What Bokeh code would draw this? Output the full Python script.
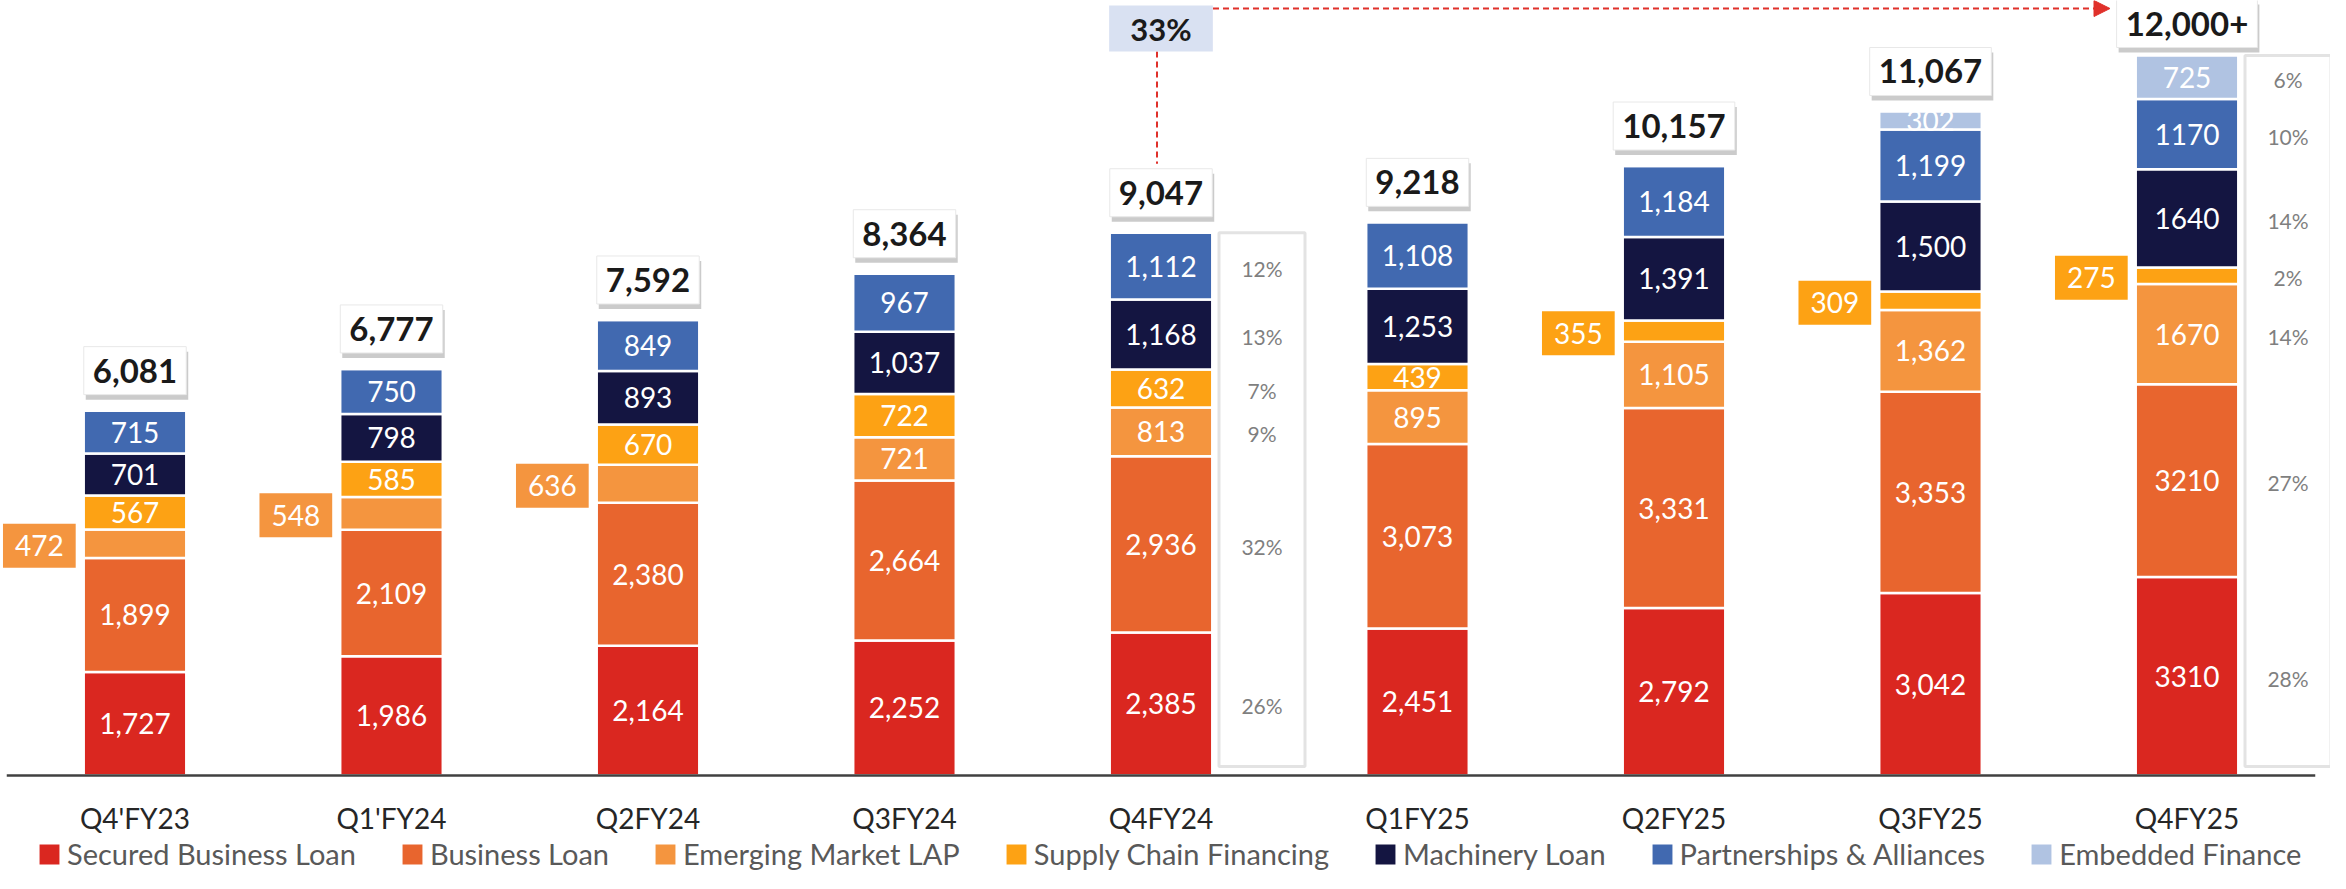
import numpy as np
from bokeh.plotting import figure
from bokeh.models import ColumnDataSource, Legend, Arrow, NormalHead, Range1d
from bokeh.core.properties import value
from bokeh.embed import file_html
from bokeh.resources import INLINE

# ---------------- data ----------------
categories = ["Q4'FY23", "Q1'FY24", "Q2FY24", "Q3FY24", "Q4FY24",
              "Q1FY25", "Q2FY25", "Q3FY25", "Q4FY25"]
secured_business_loan = [1727, 1986, 2164, 2252, 2385, 2451, 2792, 3042, 3310]
business_loan = [1899, 2109, 2380, 2664, 2936, 3073, 3331, 3353, 3210]
emerging_market_lap = [472, 548, 636, 721, 813, 895, 1105, 1362, 1670]
supply_chain_financing = [567, 585, 670, 722, 632, 439, 355, 309, 275]
machinery_loan = [701, 798, 893, 1037, 1168, 1253, 1391, 1500, 1640]
partnerships_alliances = [715, 750, 849, 967, 1112, 1108, 1184, 1199, 1170]
embedded_finance = [0, 0, 0, 0, 0, 0, 0, 302, 725]
total_labels = ["6,081", "6,777", "7,592", "8,364", "9,047", "9,218",
                "10,157", "11,067", "12,000+"]
share_q4fy24 = [26, 32, 9, 7, 13, 12]          # % of book, bottom to top
share_q4fy25 = [28, 27, 14, 2, 14, 10, 6]
growth_label = "33%"
series_names = ["Secured Business Loan", "Business Loan", "Emerging Market LAP",
                "Supply Chain Financing", "Machinery Loan",
                "Partnerships & Alliances", "Embedded Finance"]
series_values = [secured_business_loan, business_loan, emerging_market_lap,
                 supply_chain_financing, machinery_loan, partnerships_alliances,
                 embedded_finance]

# ---------------- style ----------------
colors = ["#DA2720", "#E8652E", "#F4953F", "#FDA214", "#141541", "#4169B0", "#B0C3E2"]
FONT = value("Lato")
W, H = 2330, 873
PX_PER_CAT = 256.5      # px between category centres
PX_PER_UNIT = 0.06      # px per unit of value
BASE_PX = 775           # canvas y of the zero line
FIRST_CENTER_PX = 134.5
CHAR_W = {",": 0.24, "%": 0.83, "+": 0.58}   # approx Lato advance widths (em)


def dx(px):
    return px / PX_PER_CAT


def dy(px):
    return px / PX_PER_UNIT


def text_w(s, size):
    return sum(CHAR_W.get(c, 0.58) for c in s) * size


x0 = -FIRST_CENTER_PX / PX_PER_CAT
y_top = BASE_PX / PX_PER_UNIT
p = figure(width=W, height=H, output_backend="svg", toolbar_location=None,
           x_range=Range1d(x0, x0 + W / PX_PER_CAT),
           y_range=Range1d(-(H - BASE_PX) / PX_PER_UNIT, y_top),
           x_axis_type=None, y_axis_type=None, min_border=0)
p.outline_line_color = None
p.xgrid.visible = False
p.ygrid.visible = False
p.background_fill_color = "white"

n = len(categories)
xs = np.arange(n)
data = {"x": xs}
for name, vals in zip(series_names, series_values):
    data[name] = vals
src = ColumnDataSource(data)

BAR_W = 0.4
renderers = p.vbar_stack(series_names, x="x", width=BAR_W, source=src,
                         color=colors, line_color="white", line_width=2.5)

vals = np.array(series_values, dtype=float)      # (series, cat)
tops = np.cumsum(vals, axis=0)
bottoms = tops - vals
mids = (tops + bottoms) / 2
stack_top = tops[-1]

# ---------------- value labels ----------------
outside = {2: [0, 1, 2], 3: [6, 7, 8]}   # series index -> categories labelled outside
in_x, in_y, in_t = [], [], []
out_x, out_y, out_t, out_c, out_w = [], [], [], [], []
for s in range(len(series_names)):
    for i in range(n):
        v = int(vals[s, i])
        if v == 0:
            continue
        txt = f"{v:,}" if i < n - 1 else f"{v}"
        if i in outside.get(s, []):
            w = text_w(txt, 28) + 24
            out_x.append(i - BAR_W / 2 - dx(8 + w / 2))
            out_y.append(mids[s, i] - dy(2))
            out_t.append(txt)
            out_c.append(colors[s])
            out_w.append(w)
        else:
            in_x.append(i)
            in_y.append(mids[s, i])
            in_t.append(txt)

p.text(x=in_x, y=in_y, text=in_t, text_font=FONT, text_font_size="28px",
       text_color="white", text_align="center", text_baseline="middle")

p.rect(x=out_x, y=out_y, width=out_w, height=44, width_units="screen",
       height_units="screen", fill_color=out_c, line_color=None)
p.text(x=out_x, y=out_y, text=out_t, text_font=FONT, text_font_size="28px",
       text_color="white", text_align="center", text_baseline="middle")

# ---------------- total boxes ----------------
tot_y = np.minimum(stack_top + dy(40), y_top - dy(23))
tot_w = [text_w(t, 33) + 18 for t in total_labels]
p.rect(x=xs + dx(2), y=tot_y - dy(5), width=tot_w, height=48, width_units="screen",
       height_units="screen", fill_color="#8c8c8c", fill_alpha=0.45, line_color=None)
p.rect(x=xs, y=tot_y, width=tot_w, height=48, width_units="screen",
       height_units="screen", fill_color="white", line_color="#e8e8e8", line_width=1)
p.text(x=xs, y=tot_y, text=total_labels, text_font=FONT,
       text_font_size="33px", text_font_style="bold", text_color="#1a1a1a",
       text_align="center", text_baseline="middle")

# ---------------- share boxes ----------------
for idx, shares in ((4, share_q4fy24), (8, share_q4fy25)):
    cx = idx + dx(101)
    p.quad(left=cx - dx(43), right=cx + dx(43), top=stack_top[idx],
           bottom=dy(9), fill_color="white", line_color="#e3e3e3", line_width=3)
    p.text(x=[cx] * len(shares), y=list(mids[:len(shares), idx] - dy(2)),
           text=[f"{s}%" for s in shares], text_font=FONT, text_font_size="21px",
           text_color="#7f7f7f", text_align="center", text_baseline="middle")

# ---------------- growth annotation ----------------
red = "#E0312B"
arrow_y = stack_top[8] + dy(47)
growth_y = stack_top[8] + dy(27)
p.segment(x0=[4 - dx(4)], y0=[growth_y - dy(23)], x1=[4 - dx(4)],
          y1=[stack_top[4] + dy(69)], line_color=red, line_width=2, line_dash="6 4")
p.add_layout(Arrow(x_start=4 + dx(52), y_start=arrow_y, x_end=8 - dx(77), y_end=arrow_y,
                   line_color=red, line_width=2, line_dash="6 4",
                   end=NormalHead(size=16, fill_color=red, line_color=red, line_width=1)))
p.rect(x=[4], y=[growth_y], width=text_w(growth_label, 31) + 42, height=46,
       width_units="screen", height_units="screen", fill_color="#D9E1F2", line_color=None)
p.text(x=[4], y=[growth_y], text=[growth_label], text_font=FONT,
       text_font_size="31px", text_font_style="bold", text_color="#1a1a1a",
       text_align="center", text_baseline="middle")

# ---------------- axis line + category labels ----------------
p.line(x=[-0.5, n - 0.5], y=[0, 0], line_color="#404040", line_width=2.5)
p.text(x=xs, y=[-dy(42)] * n, text=categories, text_font=FONT, text_font_size="28px",
       text_color="#262626", text_align="center", text_baseline="middle")

# ---------------- legend ----------------
legend = Legend(items=[(nm, [r]) for nm, r in zip(series_names, renderers)],
                orientation="horizontal", location=(35, 2), padding=0, margin=0,
                spacing=42, label_standoff=4, glyph_width=28, glyph_height=28,
                label_height=28, label_text_font="Lato", label_text_font_size="29px",
                label_text_color="#595959", border_line_color=None,
                background_fill_alpha=0)
p.add_layout(legend)

open("out.html", "w").write(file_html(p, INLINE))
